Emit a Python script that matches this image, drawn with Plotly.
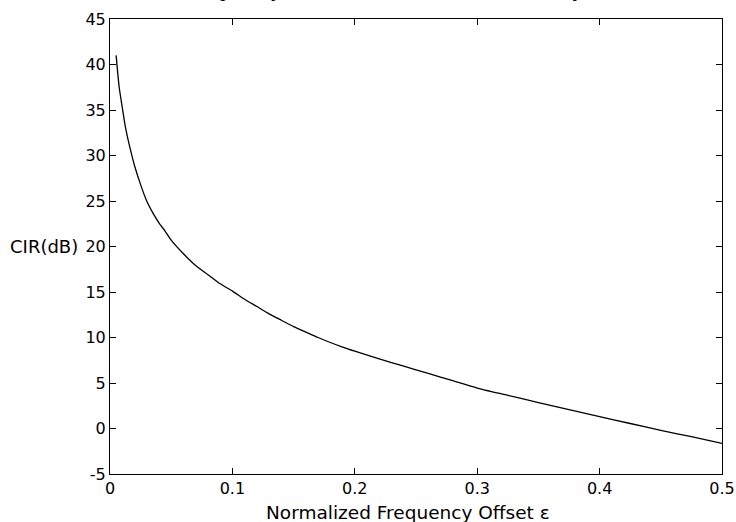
import plotly.graph_objects as go

# Normalized frequency offset (epsilon) and CIR (dB)
eps = [0.005, 0.0075, 0.01, 0.0125, 0.015, 0.0175, 0.02, 0.025, 0.03, 0.035,
       0.04, 0.045, 0.05, 0.06, 0.07, 0.08, 0.09, 0.10, 0.11, 0.12,
       0.13, 0.14, 0.15, 0.16, 0.17, 0.18, 0.19, 0.20, 0.22, 0.24,
       0.26, 0.28, 0.30, 0.325, 0.35, 0.375, 0.40, 0.425, 0.45, 0.475, 0.50]
cir_db = [41.0, 37.5, 35.3, 33.2, 31.6, 30.2, 28.9, 26.8, 25.0, 23.7,
          22.6, 21.7, 20.7, 19.2, 17.9, 16.9, 15.9, 15.1, 14.2, 13.4,
          12.6, 11.9, 11.2, 10.6, 10.0, 9.45, 8.95, 8.5, 7.65, 6.85,
          6.05, 5.25, 4.45, 3.65, 2.85, 2.07, 1.3, 0.55, -0.2, -0.9, -1.63]

x_ticks = [0, 0.1, 0.2, 0.3, 0.4, 0.5]
x_tick_labels = ["0", "0.1", "0.2", "0.3", "0.4", "0.5"]
y_ticks = [-5, 0, 5, 10, 15, 20, 25, 30, 35, 40, 45]
y_tick_labels = [str(v) for v in y_ticks]

title_text = "CIR versus Normalized Frequency Offset Ratio, for the OFDM system"
x_label = "Normalized Frequency Offset \u03b5"
y_label = "CIR(dB)"

fig = go.Figure()
fig.add_trace(go.Scatter(x=eps, y=cir_db, mode="lines",
                         line=dict(color="black", width=1.3, shape="spline", smoothing=0.6),
                         showlegend=False, hoverinfo="skip"))

axis_font = dict(family="DejaVu Sans", size=16, color="black")
common = dict(showline=True, linecolor="black", linewidth=1, mirror="ticks",
              ticks="inside", ticklen=6, tickcolor="black", showgrid=False,
              zeroline=False, tickfont=axis_font, automargin=False,
              ticklabeloverflow="allow")
fig.update_xaxes(range=[0, 0.5], tickvals=x_ticks, ticktext=x_tick_labels, **common)
fig.update_yaxes(range=[-5, 45], tickvals=y_ticks, ticktext=y_tick_labels, **common)

fig.add_annotation(text=x_label, xref="paper", yref="paper", x=0.487, y=0,
                   yanchor="middle", xanchor="center", yshift=-38, showarrow=False,
                   font=dict(family="DejaVu Sans", size=18.5, color="black"))
fig.add_annotation(text=y_label, xref="paper", yref="y", x=0, y=20,
                   xanchor="right", yanchor="middle", xshift=-30, showarrow=False,
                   font=dict(family="DejaVu Sans", size=18, color="black"))
fig.add_annotation(text=title_text, xref="paper", yref="paper", x=-0.266, y=1,
                   xanchor="left", yanchor="bottom", yshift=16, showarrow=False,
                   font=dict(family="Liberation Serif", size=24, color="black"))

fig.update_layout(width=736, height=522, margin=dict(l=110, r=14, t=19, b=48),
                  paper_bgcolor="white", plot_bgcolor="white")
fig.write_html("out.html")
